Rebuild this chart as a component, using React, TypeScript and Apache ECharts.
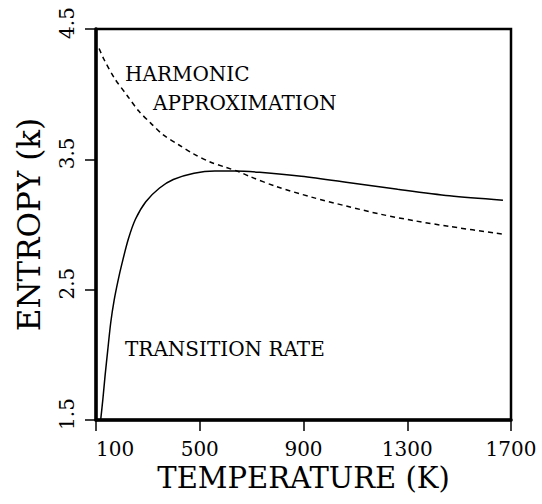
import React, { useEffect, useRef } from "react";
import * as echarts from "echarts";

const xTicks = [100, 500, 900, 1300, 1700];
const yTicks = [1.5, 2.5, 3.5, 4.5];

const harmonicT = [112, 130, 172, 220, 265, 310, 358, 420, 478, 540, 598, 651, 691, 797, 931, 1064, 1197, 1330, 1463, 1669];
const harmonicS = [4.35, 4.27, 4.12, 3.99, 3.87, 3.78, 3.69, 3.61, 3.54, 3.48, 3.44, 3.405, 3.37, 3.29, 3.21, 3.142, 3.079, 3.028, 2.985, 2.926];

const rateT = [118, 126, 135, 145, 157, 170, 185, 200, 225, 252, 292, 345, 398, 478, 558, 638, 731, 891, 1064, 1263, 1463, 1669];
const rateS = [1.5, 1.65, 1.84, 2.03, 2.25, 2.42, 2.57, 2.7, 2.89, 3.04, 3.175, 3.28, 3.345, 3.393, 3.41, 3.41, 3.4, 3.37, 3.325, 3.27, 3.22, 3.186];

const labels = [
  { text: "HARMONIC", x: 125, y: 73.5 },
  { text: "APPROXIMATION", x: 153, y: 102.5 },
  { text: "TRANSITION RATE", x: 125, y: 348.5 },
];

const FONT = "DejaVu Serif";

export default function App() {
  const ref = useRef<HTMLDivElement>(null);
  useEffect(() => {
    const chart = echarts.init(ref.current!, null, { renderer: "svg" });
    chart.setOption({
      animation: false,
      backgroundColor: "#fff",
      grid: { left: 96, right: 31, top: 29, bottom: 84, show: true, borderColor: "#000", borderWidth: 2.5 },
      xAxis: {
        type: "value",
        min: 100,
        max: 1700,
        axisLine: { show: true, lineStyle: { color: "#000", width: 3.5 } },
        axisTick: { show: true, customValues: xTicks, length: 11, lineStyle: { color: "#000", width: 1.5 } },
        axisLabel: {
          customValues: xTicks,
          fontFamily: FONT,
          fontSize: 20,
          color: "#000",
          margin: 19,
          alignMinLabel: "left",
          formatter: (v: number) => String(v),
        },
        splitLine: { show: false },
        name: "TEMPERATURE (K)",
        nameLocation: "middle",
        nameGap: 39,
        nameTextStyle: { fontFamily: FONT, fontSize: 29, color: "#000" },
      },
      yAxis: {
        type: "value",
        min: 1.5,
        max: 4.5,
        axisLine: { show: true, lineStyle: { color: "#000", width: 3.5 } },
        axisTick: { show: true, customValues: yTicks, length: 11, lineStyle: { color: "#000", width: 1.5 } },
        axisLabel: {
          customValues: yTicks,
          fontFamily: FONT,
          fontSize: 20,
          color: "#000",
          margin: 19,
          rotate: 90,
          padding: [0, 0, 0, 12],
          formatter: (v: number) => v.toFixed(1),
        },
        splitLine: { show: false },
        name: "ENTROPY (k)",
        nameLocation: "middle",
        nameGap: 52,
        nameTextStyle: { fontFamily: FONT, fontSize: 31, color: "#000" },
      },
      series: [
        {
          type: "line",
          name: "Harmonic approximation",
          data: harmonicT.map((t, i) => [t, harmonicS[i]]),
          showSymbol: false,
          smooth: 0.3,
          lineStyle: { color: "#000", width: 1.5, type: [5, 4] },
        },
        {
          type: "line",
          name: "Transition rate",
          data: rateT.map((t, i) => [t, rateS[i]]),
          showSymbol: false,
          smooth: 0.3,
          lineStyle: { color: "#000", width: 1.5 },
        },
      ],
      graphic: labels.map((l) => ({
        type: "text",
        x: l.x,
        y: l.y,
        style: { text: l.text, fontFamily: FONT, fontSize: 20, fill: "#000", textAlign: "left", textVerticalAlign: "middle" },
      })),
    });
    return () => chart.dispose();
  }, []);
  return <div ref={ref} style={{ position: "absolute", left: 0, top: 0, width: 542, height: 504 }} />;
}
